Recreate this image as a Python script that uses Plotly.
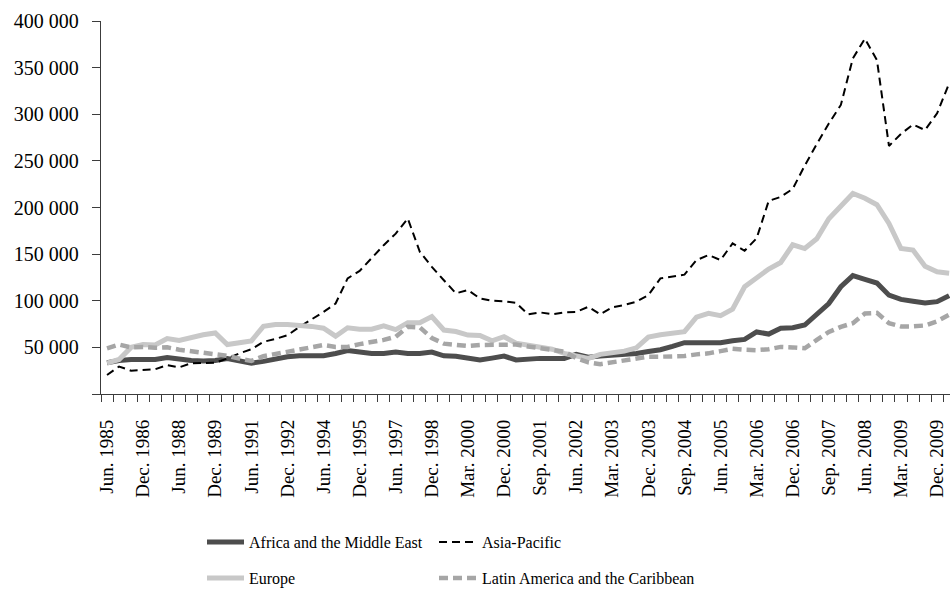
import plotly.graph_objects as go

categories = [
    "Jun. 1985", "Dec. 1985", "Jun. 1986", "Dec. 1986", "Jun. 1987", "Dec. 1987",
    "Jun. 1988", "Dec. 1988", "Jun. 1989", "Dec. 1989", "Jun. 1990", "Dec. 1990",
    "Jun. 1991", "Dec. 1991", "Jun. 1992", "Dec. 1992", "Jun. 1993", "Dec. 1993",
    "Jun. 1994", "Dec. 1994", "Jun. 1995", "Dec. 1995", "Jun. 1996", "Dec. 1996",
    "Jun. 1997", "Dec. 1997", "Jun. 1998", "Dec. 1998", "Jun. 1999", "Dec. 1999",
    "Mar. 2000", "Jun. 2000", "Sep. 2000", "Dec. 2000",
    "Mar. 2001", "Jun. 2001", "Sep. 2001", "Dec. 2001",
    "Mar. 2002", "Jun. 2002", "Sep. 2002", "Dec. 2002",
    "Mar. 2003", "Jun. 2003", "Sep. 2003", "Dec. 2003",
    "Mar. 2004", "Jun. 2004", "Sep. 2004", "Dec. 2004",
    "Mar. 2005", "Jun. 2005", "Sep. 2005", "Dec. 2005",
    "Mar. 2006", "Jun. 2006", "Sep. 2006", "Dec. 2006",
    "Mar. 2007", "Jun. 2007", "Sep. 2007", "Dec. 2007",
    "Mar. 2008", "Jun. 2008", "Sep. 2008", "Dec. 2008",
    "Mar. 2009", "Jun. 2009", "Sep. 2009", "Dec. 2009",
    "Mar. 2010",
]

africa = [
    33500, 36000, 37000, 37000, 37000, 39000, 37000, 36000, 35500, 36000,
    38000, 35500, 33000, 35000, 37500, 40000, 41000, 41000, 41000, 43500,
    46500, 45000, 43500, 43500, 45000, 43500, 43500, 45000, 41000, 40500,
    38500, 36500, 38500, 40700, 36500, 38000, 38200, 38200, 38200, 42500,
    39500, 40700, 41300, 41800, 43500, 45500, 47500, 51000, 55000, 55000,
    55000, 55000, 57000, 58600, 66500, 64300, 70500, 71000, 74000, 85000,
    97000, 115000, 127000, 123000, 119000, 106000, 101500, 99500, 97500, 99000,
    105500,
]

asia_pacific = [
    20400, 29500, 25000, 26000, 26500, 31000, 28600, 33000, 33000, 33500,
    38000, 43600, 48000, 56000, 59000, 63000, 72000, 80000, 88000, 97000,
    124000, 132000, 146000, 159600, 172000, 188200, 152500, 136400, 122000, 108000,
    111400, 102500, 100000, 99500, 97800, 85500, 87500, 85500, 87500, 88000,
    93500, 85500, 93000, 95500, 99000, 106000, 124000, 126000, 128000, 143600,
    149000, 143600, 161500, 153600, 167000, 207000, 211400, 220000, 245000, 268000,
    290000, 310000, 360000, 381000, 358000, 266000, 279000, 289000, 283000, 301000,
    333000,
]

europe = [
    33000, 37000, 50000, 53000, 52500, 59500, 57500, 61000, 63500, 65500,
    53000, 55000, 57000, 72500, 74500, 74500, 74000, 72500, 70500, 62000,
    71000, 69500, 69500, 73000, 69000, 76500, 76500, 83000, 68600, 67000,
    63200, 62800, 57000, 61400, 54500, 52000, 50500, 48000, 43600, 41000,
    38200, 42500, 44000, 46000, 49500, 61000, 63500, 65000, 66800, 82500,
    86500, 84000, 91000, 115000, 124000, 134000, 141000, 160000, 156000, 166500,
    188000, 202000, 215000, 210000, 203000, 183000, 156000, 154300, 137000, 131000,
    129500,
]

latin_america = [
    49000, 53000, 50000, 50500, 49500, 50000, 47500, 46000, 45000, 43500,
    41000, 38000, 35500, 40500, 43000, 45500, 48000, 50500, 52500, 50500,
    50500, 53500, 55500, 58000, 61500, 72000, 71500, 60000, 54000, 52500,
    51500, 52500, 53000, 53000, 53000, 51000, 49000, 48000, 45500, 38500,
    34000, 32000, 34000, 36500, 38200, 40000, 40000, 40000, 40700, 42500,
    43600, 46000, 48500, 47500, 47000, 48000, 50500, 50000, 49000, 58000,
    66500, 72000, 76000, 86400, 87000, 76000, 72500, 72500, 73500, 78000,
    85000,
]

y_tick_values = [0, 50000, 100000, 150000, 200000, 250000, 300000, 350000, 400000]
y_tick_labels = ["", "50 000", "100 000", "150 000", "200 000", "250 000",
                 "300 000", "350 000", "400 000"]

x_tick_labels = [c if i % 3 == 0 else "" for i, c in enumerate(categories)]

FONT = "Liberation Serif"
AXIS = "#3c3c3c"
W, H = 950, 589

series = [
    ("Africa and the Middle East", africa, "#4d4d4d", 5, "solid", "legend"),
    ("Asia-Pacific", asia_pacific, "#000000", 2, "8px,5px", "legend2"),
    ("Europe", europe, "#c8c8c8", 5, "solid", "legend3"),
    ("Latin America and the Caribbean", latin_america, "#a6a6a6", 4.5, "9px,5px", "legend4"),
]

fig = go.Figure()
for name, vals, color, width, dash, leg in series:
    fig.add_trace(go.Scatter(
        x=categories, y=vals, name=name, mode="lines",
        line=dict(color=color, width=width, dash=dash),
        legend=leg,
    ))

L = 101
PW = W - L


def legend_cfg(px, py, iw):
    return dict(
        xref="container", yref="container",
        x=px / W, y=1 - py / H, xanchor="left", yanchor="middle",
        font=dict(family=FONT, size=16, color="#000000"),
        bgcolor="rgba(0,0,0,0)", borderwidth=0,
        itemwidth=iw, tracegroupgap=0,
    )


fig.update_layout(
    width=W, height=H,
    margin=dict(l=L, r=0, t=21, b=195, pad=0, autoexpand=False),
    paper_bgcolor="white", plot_bgcolor="white",
    font=dict(family=FONT, size=19, color="#000000"),
    showlegend=True,
    legend=legend_cfg(202, 542, 37),
    legend2=legend_cfg(434, 542, 38),
    legend3=legend_cfg(202, 578, 37),
    legend4=legend_cfg(434, 578, 38),
    xaxis=dict(
        type="category",
        range=[-0.5, -0.5 + PW / 12.03],
        tickmode="array", tickvals=categories, ticktext=x_tick_labels,
        tickson="boundaries",
        ticks="outside", ticklen=7, tickwidth=1.3, tickcolor=AXIS,
        showline=True, linecolor=AXIS, linewidth=1.3,
        showgrid=False, zeroline=False,
        tickangle=-90, ticklabelstandoff=17,
        tickfont=dict(family=FONT, size=19, color="#000000"),
    ),
    yaxis=dict(
        range=[0, 400000],
        tickmode="array", tickvals=y_tick_values, ticktext=y_tick_labels,
        ticks="outside", ticklen=8, tickwidth=1.3, tickcolor=AXIS,
        showline=True, linecolor=AXIS, linewidth=1.3,
        showgrid=False, zeroline=False, ticklabelstandoff=9,
        tickfont=dict(family=FONT, size=20, color="#000000"),
    ),
)

fig.write_html(
    "out.html",
    config={"displayModeBar": False},
    post_script="document.body.style.margin='0';document.documentElement.style.overflow='hidden';",
)
